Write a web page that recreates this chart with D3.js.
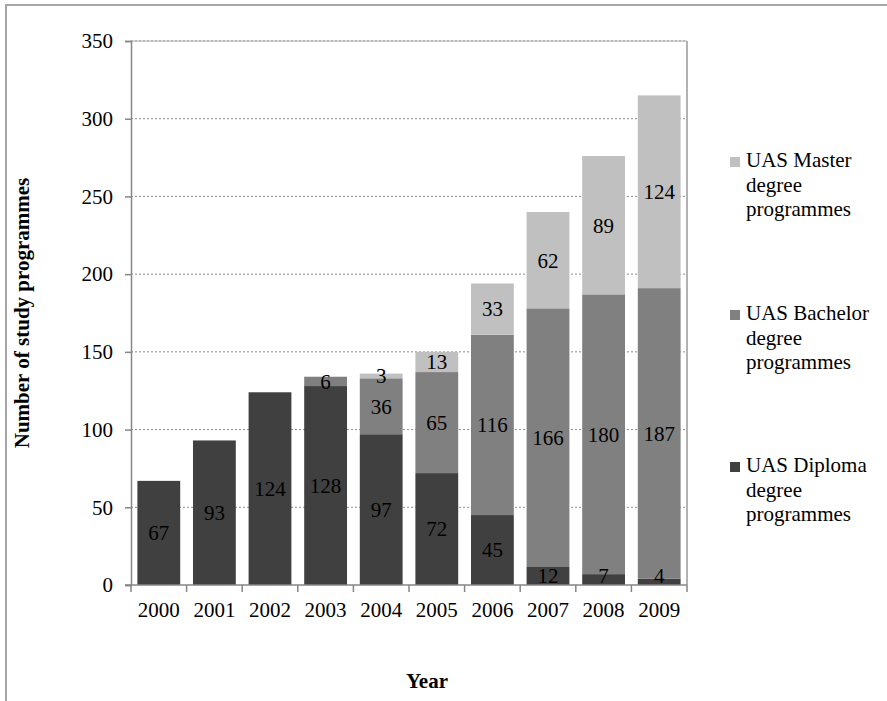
<!DOCTYPE html>
<html>
<head>
<meta charset="utf-8">
<script src="https://cdn.jsdelivr.net/npm/d3@7/dist/d3.min.js"></script>
<style>
  html, body { margin: 0; padding: 0; background: #fff; }
  svg { display: block; }
  text { font-family: "Liberation Serif", "Times New Roman", serif; fill: #000; }
</style>
</head>
<body>
<svg id="chart" width="887" height="701"></svg>
<script>
// Study programmes at universities of applied sciences, by year and degree type
const years = ["2000", "2001", "2002", "2003", "2004", "2005", "2006", "2007", "2008", "2009"];
const diploma  = [67, 93, 124, 128, 97, 72, 45, 12, 7, 4];
const bachelor = [0, 0, 0, 6, 36, 65, 116, 166, 180, 187];
const master   = [0, 0, 0, 0, 3, 13, 33, 62, 89, 124];
const yTicks = [0, 50, 100, 150, 200, 250, 300, 350];

const seriesKeys = ["diploma", "bachelor", "master"];
const seriesColors = ["#404040", "#808080", "#c0c0c0"];
const FS = 21;

const rows = years.map((y, i) => ({ year: y, diploma: diploma[i], bachelor: bachelor[i], master: master[i] }));

const svg = d3.select("#chart");
const plot = { left: 131, right: 687, top: 41, bottom: 585 };

// outer frame
svg.append("rect")
  .attr("x", 6).attr("y", 5).attr("width", 1000).attr("height", 1000)
  .attr("fill", "none").attr("stroke", "#a6a6a6").attr("stroke-width", 2);

const x = d3.scaleBand().domain(years).range([plot.left, plot.right]).paddingInner(0.23).paddingOuter(0.115);
const y = d3.scaleLinear().domain([0, 350]).range([plot.bottom, plot.top]);

// gridlines
svg.append("g").selectAll("line").data(yTicks.filter(t => t > 0)).join("line")
  .attr("x1", plot.left).attr("x2", plot.right)
  .attr("y1", d => y(d)).attr("y2", d => y(d))
  .attr("stroke", "#8c8c8c").attr("stroke-width", 1).attr("stroke-dasharray", "2,2");

// plot area right and top border
svg.append("line")
  .attr("x1", plot.right).attr("x2", plot.right).attr("y1", plot.top).attr("y2", plot.bottom)
  .attr("stroke", "#999").attr("stroke-width", 1.5);
svg.append("line")
  .attr("x1", plot.left).attr("x2", plot.right).attr("y1", plot.top).attr("y2", plot.top)
  .attr("stroke", "#b0b0b0").attr("stroke-width", 1);

// stacked bars
const stacked = d3.stack().keys(seriesKeys)(rows);
const layers = svg.append("g").selectAll("g").data(stacked).join("g")
  .attr("fill", (d, i) => seriesColors[i]);
layers.selectAll("rect").data(d => d.filter(s => s[1] - s[0] > 0)).join("rect")
  .attr("x", d => x(d.data.year))
  .attr("width", x.bandwidth())
  .attr("y", d => y(d[1]))
  .attr("height", d => y(d[0]) - y(d[1]));

// value labels, centred in each segment
const labelG = svg.append("g");
stacked.forEach(layer => {
  layer.forEach(s => {
    const v = s[1] - s[0];
    if (v <= 0) return;
    const cy = Math.min((y(s[0]) + y(s[1])) / 2, plot.bottom - 9);
    labelG.append("text")
      .attr("x", x(s.data.year) + x.bandwidth() / 2)
      .attr("y", cy)
      .attr("dy", "0.35em")
      .attr("text-anchor", "middle")
      .attr("font-size", FS)
      .text(v);
  });
});

// y axis
const yAxis = svg.append("g").attr("transform", `translate(${plot.left},0)`)
  .call(d3.axisLeft(y).tickValues(yTicks).tickSize(6).tickPadding(12));
yAxis.select(".domain").attr("stroke", "#868686").attr("stroke-width", 1.5);
yAxis.selectAll(".tick line").attr("stroke", "#868686").attr("stroke-width", 1.5);
yAxis.selectAll(".tick text").attr("font-size", FS).attr("fill", "#000");

// x axis with ticks on category boundaries
const xAxisG = svg.append("g");
xAxisG.append("line")
  .attr("x1", plot.left - 6).attr("x2", plot.right)
  .attr("y1", plot.bottom).attr("y2", plot.bottom)
  .attr("stroke", "#868686").attr("stroke-width", 1.5);
const bounds = d3.range(years.length + 1).map(i => plot.left + i * (plot.right - plot.left) / years.length);
xAxisG.selectAll("line.tk").data(bounds).join("line").attr("class", "tk")
  .attr("x1", d => d).attr("x2", d => d)
  .attr("y1", plot.bottom).attr("y2", plot.bottom + 7)
  .attr("stroke", "#868686").attr("stroke-width", 1.5);
xAxisG.selectAll("text").data(years).join("text")
  .attr("x", d => x(d) + x.bandwidth() / 2)
  .attr("y", 617)
  .attr("text-anchor", "middle")
  .attr("font-size", FS)
  .text(d => d);

// axis titles
svg.append("text")
  .attr("x", 427).attr("y", 688)
  .attr("text-anchor", "middle").attr("font-size", FS).attr("font-weight", "bold")
  .text("Year");
svg.append("text")
  .attr("transform", "translate(29,313) rotate(-90)")
  .attr("text-anchor", "middle").attr("font-size", FS).attr("font-weight", "bold")
  .text("Number of study programmes");

// legend (top entry is the top of the stack)
const legendItems = [
  { lines: ["UAS Master", "degree", "programmes"], color: seriesColors[2], top: 157 },
  { lines: ["UAS Bachelor", "degree", "programmes"], color: seriesColors[1], top: 310 },
  { lines: ["UAS Diploma", "degree", "programmes"], color: seriesColors[0], top: 462 }
];
const lg = svg.append("g").selectAll("g").data(legendItems).join("g");
lg.append("rect")
  .attr("x", 730).attr("y", d => d.top).attr("width", 10).attr("height", 10)
  .attr("fill", d => d.color);
lg.each(function(d) {
  const t = d3.select(this).append("text").attr("font-size", FS);
  d.lines.forEach((ln, i) => {
    t.append("tspan").attr("x", 746).attr("y", d.top + 10 + i * 24.5).text(ln);
  });
});
</script>
</body>
</html>
